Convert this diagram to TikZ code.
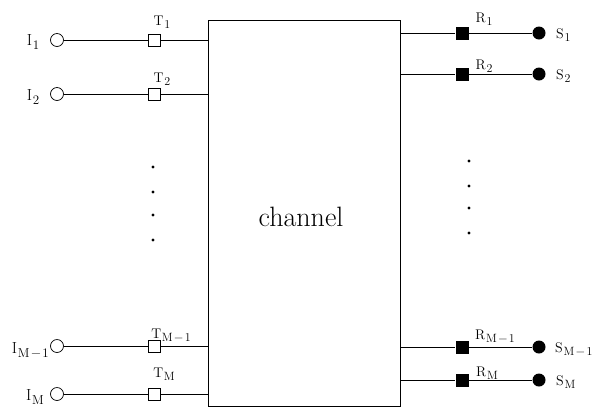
\documentclass[tikz,border=0pt]{standalone}
\usepackage{fontspec}
\newcommand{\subsize}{10}
\newcommand{\lsub}[1]{\kern0.8pt\raisebox{-0.45ex}{\fontsize{\subsize}{\subsize}\selectfont #1}}
\newcommand{\mmo}{M\kern1.5pt\char"2212\kern1.5pt 1}
\begin{document}
\begin{tikzpicture}[x=1pt,y=-1pt,
  wire/.style={line width=0.7pt},
  incirc/.style={circle,draw,line width=0.7pt,minimum size=13pt,inner sep=0pt},
  outcirc/.style={circle,fill,minimum size=13pt,inner sep=0pt},
  tbox/.style={rectangle,draw,line width=0.7pt,minimum size=12pt,inner sep=0pt},
  rbox/.style={rectangle,fill,minimum size=13pt,inner sep=0pt},
  lbl/.style={inner sep=0pt,font={\fontsize{16}{18}\selectfont\renewcommand{\subsize}{13}}},
  slbl/.style={inner sep=0pt,font={\fontsize{14}{16}\selectfont\renewcommand{\subsize}{12}}},
  dotc/.style={circle,fill,minimum size=3.2pt,inner sep=0pt}]
\useasboundingbox (0,0) rectangle (600,408);
% channel
\node[draw,line width=0.7pt,minimum width=192pt,minimum height=386pt,inner sep=0pt] (ch) at (304,213) {};
\node (cht) at (301,217) {\fontsize{28}{30}\selectfont channel};
% inputs
\foreach \n/\y in {1/40,2/94,3/346,4/394}{
  \node[incirc] (i\n) at (57,\y) {};
  \node[tbox] (t\n) at (154,\y) {};
  \draw[wire] (i\n) -- (t\n);
  \draw[wire] (t\n.east) -- (t\n.east -| ch.west);
}
\node[lbl] (li1) at (33,42) {I\lsub{1}};
\node[lbl] (li2) at (33,97) {I\lsub{2}};
\node[lbl,anchor=east] (li3) at (49,350) {I\lsub{\mmo}};
\node[lbl] (li4) at (35,397) {I\lsub{M}};
\node[slbl] (lt1) at (162,22) {T\lsub{1}};
\node[slbl] (lt2) at (162,79) {T\lsub{2}};
\node[slbl] (lt3) at (171,335) {T\lsub{\mmo}};
\node[slbl] (lt4) at (164,374) {T\lsub{M}};
% outputs
\foreach \n/\y in {1/33,2/74,3/347,4/380}{
  \node[rbox] (r\n) at (462,\y) {};
  \node[outcirc] (s\n) at (539,\y) {};
  \draw[wire] (ch.east |- r\n.west) -- (r\n.west);
  \draw[wire] (r\n) -- (s\n);
}
\node[slbl] (lr1) at (484,19) {R\lsub{1}};
\node[slbl] (lr2) at (484,66) {R\lsub{2}};
\node[slbl] (lr3) at (495,336) {R\lsub{\mmo}};
\node[slbl] (lr4) at (487,373) {R\lsub{M}};
\node[slbl,anchor=west] (ls1) at (556,35) {S\lsub{1}};
\node[slbl,anchor=west] (ls2) at (556,76) {S\lsub{2}};
\node[slbl,anchor=west] (ls3) at (555,349) {S\lsub{\mmo}};
\node[slbl,anchor=west] (ls4) at (556,382) {S\lsub{M}};
% dots
\foreach \y [count=\k] in {167,192,215,240}{ \node[dotc] (dl\k) at (153,\y) {}; }
\foreach \y [count=\k] in {161,186,208,233}{ \node[dotc] (dr\k) at (469,\y) {}; }
\end{tikzpicture}
\end{document}
